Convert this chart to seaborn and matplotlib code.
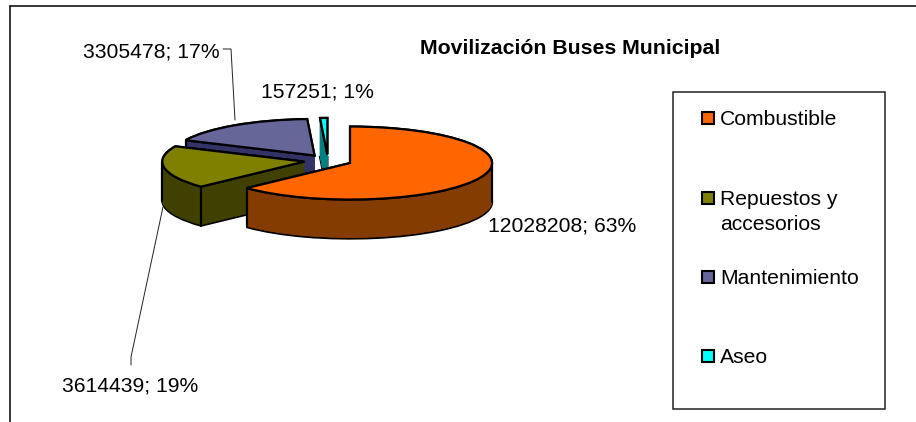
import math
import matplotlib
matplotlib.use("Agg")
import matplotlib.pyplot as plt
from matplotlib.patches import Rectangle
import seaborn as sns

categories = ["Combustible", "Repuestos y\naccesorios", "Mantenimiento", "Aseo"]
values = [12028208, 3614439, 3305478, 157251]
percents = [63, 19, 17, 1]
top_colors = ["#FF6600", "#808000", "#666699", "#00FFFF"]
side_colors = ["#843C00", "#404000", "#333366", "#008080"]

sns.set_theme(style="white")
plt.rcParams["font.family"] = ["Liberation Sans", "DejaVu Sans"]

W, H = 916, 422
fig = plt.figure(figsize=(W / 100, H / 100), dpi=100, facecolor="white")

# pie axes: x in pixels, y stretched so a circle appears as a flat ellipse
SQUASH = 0.257
DEPTH = 39
pie_ax = fig.add_axes([0, 0, 1, 1])
CX, CY, RADIUS, EXPLODE = 328, 160.6, 142, 24.0
top_pal = sns.color_palette(top_colors)
side_pal = sns.color_palette(side_colors)


def draw_layer(idx, dy, color, edge, lw):
    wedges, _ = pie_ax.pie(
        values, explode=[EXPLODE] * len(values), startangle=90, counterclock=False,
        radius=RADIUS, center=(CX, (H - CY - dy) / SQUASH),
        colors=[color] * len(values),
        wedgeprops=dict(edgecolor=edge, linewidth=lw), frame=False,
    )
    for j, w in enumerate(wedges):
        if j != idx:
            w.remove()
    return wedges[idx]


def vertical_edge(w, angle):
    px = w.center[0] + RADIUS * math.cos(math.radians(angle))
    py = w.center[1] + RADIUS * math.sin(math.radians(angle))
    pie_ax.plot([px, px], [py, py - DEPTH / SQUASH], color="black", lw=1.6, zorder=w.get_zorder())


for i in [3, 2, 1, 0]:
    draw_layer(i, DEPTH, side_pal[i], "black", 1.6)
    for dy in range(DEPTH - 1, 0, -1):
        draw_layer(i, dy, side_pal[i], side_pal[i], 0.6)
    w = draw_layer(i, 0, top_pal[i], "black", 1.6)
    # corner edges whose radial face or rim is visible from the front
    for a, is_lower in ((w.theta1, True), (w.theta2, False)):
        s = math.sin(math.radians(a))
        if s < 0 or (s < 0.45 and not is_lower):
            vertical_edge(w, a)
    # silhouette edges of the rim
    lo, hi = w.theta1 % 360, w.theta2 % 360
    if lo <= 180 <= hi:
        vertical_edge(w, 180)
    if lo > hi:
        vertical_edge(w, 0)
    draw_layer(i, 0, top_pal[i], "black", 1.6)

pie_ax.set_aspect("auto")
pie_ax.set_xlim(0, W)
pie_ax.set_ylim(0, H / SQUASH)
pie_ax.axis("off")

# overlay in pixel coordinates: frame, title, labels, legend
ov = fig.add_axes([0, 0, 1, 1], facecolor="none")
ov.set_xlim(0, W)
ov.set_ylim(H, 0)
ov.axis("off")

FS = 15.2
ov.plot([10, 10], [422, 6], color="black", lw=1.1)
ov.plot([10, 916], [6, 6], color="black", lw=1.1)

ov.text(570.5, 48.5, "Movilización Buses Municipal", ha="center", va="center",
        fontsize=15.3, fontweight="bold", color="black")

label_pos = [(488, 225.5), (62, 386.5), (83, 51.5), (261, 91.5)]
for v, p, (x, y) in zip(values, percents, label_pos):
    ov.text(x, y, f"{v}; {p}%", ha="left", va="center", fontsize=FS, color="black")

ov.plot([223, 231, 235], [49, 49, 120], color="#222222", lw=0.7)
ov.plot([131, 131, 163], [365, 357, 207], color="#222222", lw=0.7)

# legend box
ov.add_patch(Rectangle((673, 92), 212, 317, fc="white", ec="#222222", lw=1.1))
rows = [118, 198, 277, 356]
for c, y, lab in zip(top_pal, rows, categories):
    ov.add_patch(Rectangle((702, y - 6), 12, 12, fc=c, ec="black", lw=1.5))
    ov.text(720, y - 8, lab, ha="left", va="top", fontsize=FS, color="black", linespacing=1.37)

fig.savefig("out.png", dpi=100, facecolor="white")
